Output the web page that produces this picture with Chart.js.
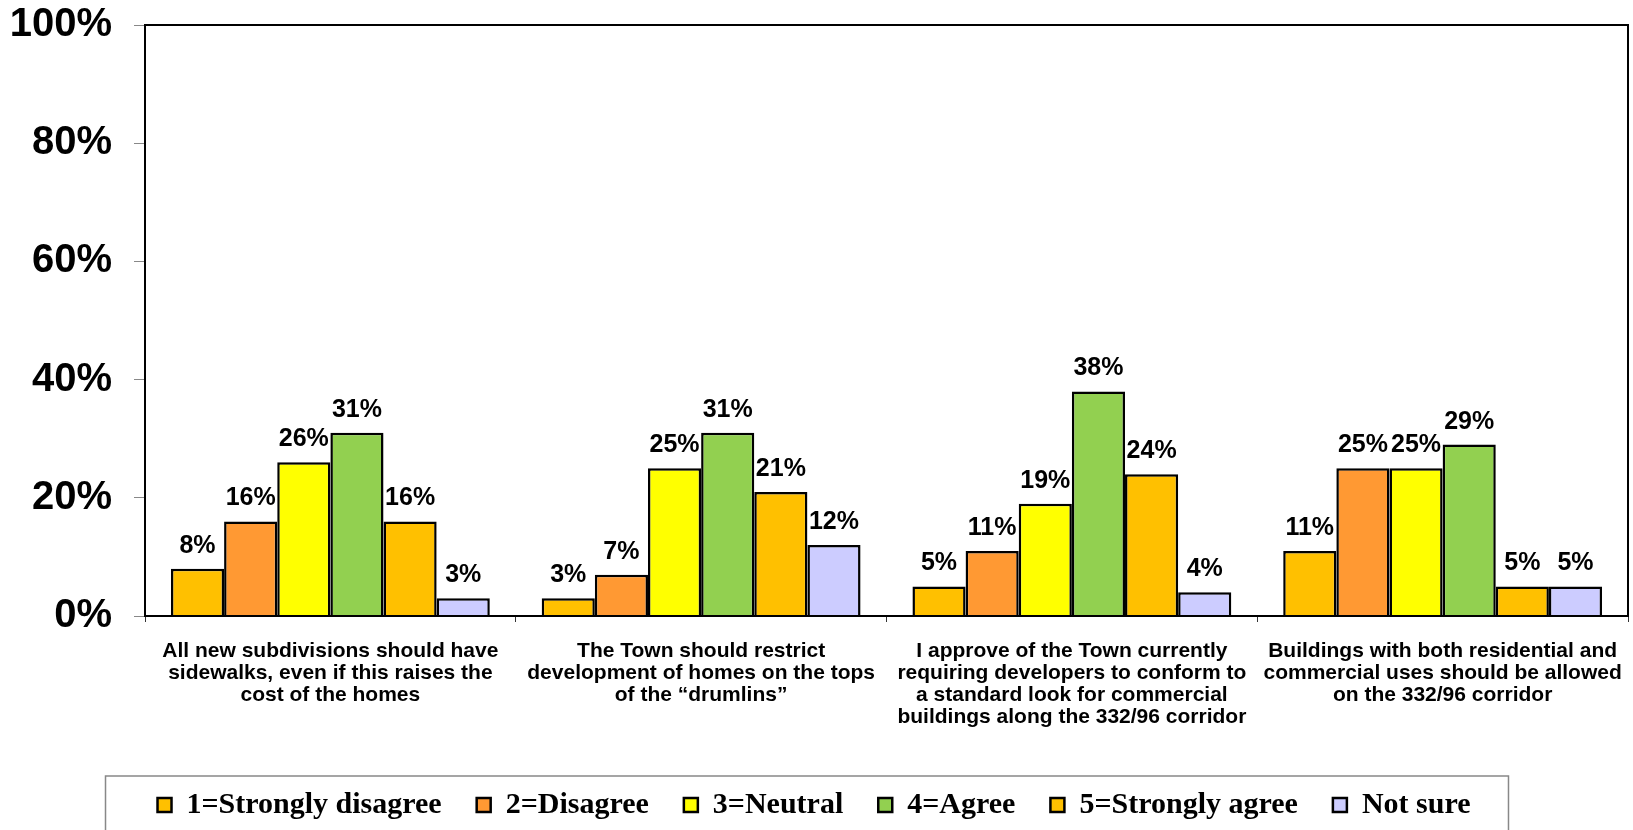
<!DOCTYPE html>
<html>
<head>
<meta charset="utf-8">
<script src="https://cdn.jsdelivr.net/npm/chart.js@4"></script>
<style>
  html, body { margin: 0; padding: 0; background: #fff; }
  #wrap { width: 1633px; height: 830px; }
</style>
</head>
<body>
<div id="wrap"><canvas id="survey"></canvas></div>
<script>
const categories = [
  ['All new subdivisions should have', 'sidewalks, even if this raises the', 'cost of the homes'],
  ['The Town should restrict', 'development of homes on the tops', 'of the \u201cdrumlins\u201d'],
  ['I approve of the Town currently', 'requiring developers to conform to', 'a standard look for commercial', 'buildings along the 332/96 corridor'],
  ['Buildings with both residential and', 'commercial uses should be allowed', 'on the 332/96 corridor']
];
const seriesNames = ['1=Strongly disagree', '2=Disagree', '3=Neutral', '4=Agree', '5=Strongly agree', 'Not sure'];
const stronglyDisagree = [8, 3, 5, 11];
const disagree = [16, 7, 11, 25];
const neutral = [26, 25, 19, 25];
const agree = [31, 31, 38, 29];
const stronglyAgree = [16, 21, 24, 5];
const notSure = [3, 12, 4, 5];
const yTicks = [0, 20, 40, 60, 80, 100];

const colors = ['#FFC000', '#FF9933', '#FFFF00', '#92D050', '#FFC000', '#CCCCFF'];
const allValues = [stronglyDisagree, disagree, neutral, agree, stronglyAgree, notSure];

// value labels above each bar
const barLabels = {
  id: 'barLabels',
  afterDatasetsDraw(chart) {
    const ctx = chart.ctx;
    ctx.save();
    ctx.font = 'bold 25px "Liberation Sans", Arial, sans-serif';
    ctx.fillStyle = '#000';
    ctx.textAlign = 'center';
    ctx.textBaseline = 'alphabetic';
    chart.data.datasets.forEach((ds, i) => {
      chart.getDatasetMeta(i).data.forEach((bar, j) => {
        ctx.fillText(ds.data[j] + '%', bar.x, bar.y - 16);
      });
    });
    ctx.restore();
  }
};

// black frame round the plot and grey frame round the legend
const frames = {
  id: 'frames',
  afterDraw(chart) {
    const ctx = chart.ctx;
    const a = chart.chartArea;
    ctx.save();
    ctx.strokeStyle = '#000';
    ctx.lineWidth = 2;
    ctx.strokeRect(a.left, a.top, a.right - a.left, a.bottom - a.top);
    const hb = chart.legend.legendHitBoxes;
    if (hb && hb.length) {
      const first = hb[0], last = hb[hb.length - 1];
      const l = first.left - 52;
      const r = last.left + last.width + 38;
      const t = first.top - 14;
      ctx.strokeStyle = '#888';
      ctx.lineWidth = 1.5;
      ctx.strokeRect(l, t, r - l, 80);
    }
    ctx.restore();
  }
};

new Chart(document.getElementById('survey').getContext('2d'), {
  type: 'bar',
  data: {
    labels: categories,
    datasets: seriesNames.map((name, i) => ({
      label: name,
      data: allValues[i],
      backgroundColor: colors[i],
      borderColor: '#000',
      borderWidth: 2.5,
      categoryPercentage: 0.86,
      barPercentage: 1.0
    }))
  },
  options: {
    responsive: true,
    maintainAspectRatio: false,
    animation: false,
    layout: { padding: { top: 25, right: 5, left: 0, bottom: 0 } },
    scales: {
      x: {
        border: { display: true, color: '#000', width: 2 },
        grid: { display: true, drawOnChartArea: false, drawTicks: true, tickLength: 6, color: '#333', offset: true },
        ticks: {
          color: '#000',
          font: { family: '"Liberation Sans", Arial, sans-serif', size: 21, weight: 'bold', lineHeight: 1.05 },
          maxRotation: 0, autoSkip: false, padding: 18
        },
        afterFit(scale) { scale.height = 139; scale.paddingLeft = 0; scale.paddingRight = 0; }
      },
      y: {
        min: 0, max: 100,
        border: { display: true, color: '#000', width: 2 },
        grid: { display: true, drawOnChartArea: false, drawTicks: true, tickLength: 11, color: '#888' },
        afterBuildTicks(scale) { scale.ticks = yTicks.map(v => ({ value: v })); },
        ticks: {
          color: '#000',
          padding: 22,
          font: { family: '"Liberation Sans", Arial, sans-serif', size: 40, weight: 'bold' },
          callback: v => v + '%'
        },
        afterFit(scale) { scale.width = 145; scale.paddingTop = 0; }
      }
    },
    plugins: {
      legend: {
        position: 'bottom',
        labels: {
          color: '#000',
          boxWidth: 14,
          boxHeight: 14,
          padding: 35,
          font: { family: '"Liberation Serif", "Times New Roman", serif', size: 30, weight: 'bold' }
        }
      },
      tooltip: { enabled: false }
    }
  },
  plugins: [barLabels, frames]
});
</script>
</body>
</html>
